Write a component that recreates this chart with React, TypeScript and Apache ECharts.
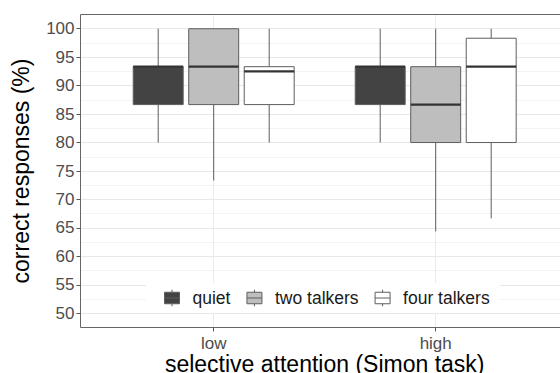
import React, { useEffect, useRef } from "react";
import * as echarts from "echarts";

// ---- data ----
const groups = ["low", "high"];
const seriesNames = ["quiet", "two talkers", "four talkers"];
const seriesFills = ["#434343", "#bebebe", "#ffffff"];

const quietMin = [80, 80];
const quietQ1 = [86.67, 86.67];
const quietMedian = [93.33, 93.33];
const quietQ3 = [93.33, 93.33];
const quietMax = [100, 100];

const twoMin = [73.33, 64.4];
const twoQ1 = [86.67, 80];
const twoMedian = [93.33, 86.67];
const twoQ3 = [100, 93.33];
const twoMax = [100, 100];

const fourMin = [80, 66.67];
const fourQ1 = [86.67, 80];
const fourMedian = [92.5, 93.33];
const fourQ3 = [93.33, 98.33];
const fourMax = [100, 100];

const yTickMin = 50;
const yTickMax = 100;
const yTickStep = 5;

// ---- layout ----
const W = 570;
const H = 373;
const PL = 80.5;
const PT = 14.5;
const PB = 327.5;
const UNIT_X = 222;
const PW = 2.2 * UNIT_X;
const Y_LO = 47.5;
const Y_HI = 102.5;
const PH = PB - PT;
const pxPerY = PH / (Y_HI - Y_LO);
const FONT = "'Liberation Sans', Arial, Helvetica, sans-serif";

const KEY_PATH =
  "path://M0,2.5L15,2.5L15,14L0,14Z M7.5,0L7.5,2.5 M7.5,14L7.5,16.5 M0,8.25L15,8.25";

function buildData(mn: number[], q1: number[], md: number[], q3: number[], mx: number[]) {
  return groups.map((g, i) => [g, mn[i], q1[i], md[i], q3[i], mx[i]]);
}

const seriesData = [
  buildData(quietMin, quietQ1, quietMedian, quietQ3, quietMax),
  buildData(twoMin, twoQ1, twoMedian, twoQ3, twoMax),
  buildData(fourMin, fourQ1, fourMedian, fourQ3, fourMax),
];

const DODGE = 0.25;
const BOX_FRAC = 0.225;
const OUTLINE = "#5e5e5e";

const gridBase = { containLabel: false, outerBoundsMode: "none" };

export default function App() {
  const ref = useRef<HTMLDivElement>(null);
  useEffect(() => {
    if (!ref.current) return;
    const chart = echarts.init(ref.current, undefined, { renderer: "svg" });
    const series = seriesNames.map((name, si) => ({
      name,
      type: "custom",
      xAxisIndex: 2,
      yAxisIndex: 2,
      z: 3,
      itemStyle: { color: seriesFills[si], borderColor: OUTLINE },
      encode: { x: 0, y: [1, 2, 3, 4, 5] },
      data: seriesData[si],
      renderItem: (params: any, api: any) => {
        const xi = api.value(0);
        const band = api.size([1, 0])[0];
        const cx = api.coord([xi, 0])[0] + (si - 1) * DODGE * band;
        const hw = (BOX_FRAC * band) / 2;
        const yMin = api.coord([xi, api.value(1)])[1];
        const yQ1 = api.coord([xi, api.value(2)])[1];
        const yMed = api.coord([xi, api.value(3)])[1];
        const yQ3 = api.coord([xi, api.value(4)])[1];
        const yMax = api.coord([xi, api.value(5)])[1];
        const ls = { stroke: OUTLINE, lineWidth: 1 };
        return {
          type: "group",
          children: [
            { type: "line", shape: { x1: cx, y1: yMax, x2: cx, y2: yQ3 }, style: ls },
            { type: "line", shape: { x1: cx, y1: yQ1, x2: cx, y2: yMin }, style: ls },
            {
              type: "rect",
              shape: { x: cx - hw, y: yQ3, width: 2 * hw, height: yQ1 - yQ3 },
              style: { fill: seriesFills[si], stroke: OUTLINE, lineWidth: 1 },
            },
            {
              type: "line",
              shape: { x1: cx - hw, y1: yMed, x2: cx + hw, y2: yMed },
              style: { stroke: "#333333", lineWidth: 2.2 },
            },
          ],
        };
      },
    }));

    const option: any = {
      animation: false,
      backgroundColor: "#ffffff",
      textStyle: { fontFamily: FONT },
      grid: [
        { ...gridBase, left: PL, top: PT, width: PW, height: PH },
        {
          ...gridBase,
          left: PL,
          top: PT + (Y_HI - yTickMax) * pxPerY,
          width: PW,
          height: (yTickMax - yTickMin) * pxPerY,
        },
        { ...gridBase, left: PL + 0.1 * UNIT_X, top: PT, width: 2 * UNIT_X, height: PH },
        { ...gridBase, left: PL + 0.6 * UNIT_X, top: PT, width: UNIT_X, height: PH },
      ],
      xAxis: [
        { gridIndex: 0, type: "value", min: 0, max: 1, show: false },
        { gridIndex: 1, type: "value", min: 0, max: 1, show: false },
        { gridIndex: 2, type: "category", data: groups, boundaryGap: true, show: false },
        {
          gridIndex: 3,
          type: "category",
          data: groups,
          boundaryGap: false,
          axisLine: { show: false, onZero: false },
          axisTick: { show: true, length: 4, interval: 0, lineStyle: { color: "#555555" } },
          axisLabel: {
            interval: 0,
            margin: 7,
            fontSize: 17,
            color: "#4d4d4d",
            fontFamily: FONT,
          },
          splitLine: { show: true, interval: 0, lineStyle: { color: "#ebebeb", width: 1 } },
          name: "selective attention (Simon task)",
          nameLocation: "middle",
          nameGap: 25,
          nameMoveOverlap: false,
          nameTextStyle: { fontSize: 23, color: "#000000", fontFamily: FONT },
        },
      ],
      yAxis: [
        {
          gridIndex: 0,
          type: "value",
          min: Y_LO,
          max: Y_HI,
          interval: 2.5,
          axisLine: { show: false },
          axisTick: { show: false },
          axisLabel: { show: false },
          splitLine: { show: true, lineStyle: { color: ["#f3f3f3", "#e8e8e8"], width: 1 } },
        },
        {
          gridIndex: 1,
          type: "value",
          min: yTickMin,
          max: yTickMax,
          interval: yTickStep,
          axisLine: { show: false },
          axisTick: { show: true, length: 4, lineStyle: { color: "#555555" } },
          axisLabel: { margin: 6, fontSize: 17, color: "#4d4d4d", fontFamily: FONT },
          splitLine: { show: false },
          name: "correct responses (%)",
          nameLocation: "middle",
          nameGap: 48,
          nameMoveOverlap: false,
          nameTextStyle: { fontSize: 23, color: "#000000", fontFamily: FONT },
        },
        { gridIndex: 2, type: "value", min: Y_LO, max: Y_HI, show: false },
        { gridIndex: 3, type: "value", min: 0, max: 1, show: false },
      ],
      legend: {
        show: true,
        left: 146,
        top: 283,
        orient: "horizontal",
        backgroundColor: "#ffffff",
        padding: [6, 10, 6, 18],
        itemWidth: 31,
        itemHeight: 16.5,
        itemGap: 16,
        selectedMode: false,
        textStyle: { fontSize: 17.5, color: "#1a1a1a", fontFamily: FONT },
        data: seriesNames.map((n, i) => ({
          name: n,
          icon: KEY_PATH,
          itemStyle: { color: seriesFills[i], borderColor: OUTLINE, borderWidth: 1 },
        })),
      },
      graphic: [
        {
          type: "rect",
          z: 100,
          silent: true,
          shape: { x: PL, y: PT, width: PW, height: PH },
          style: { fill: "none", stroke: "#666666", lineWidth: 1 },
        },
      ],
      series,
    };
    chart.setOption(option);
    return () => chart.dispose();
  }, []);
  return (
    <div
      style={{
        position: "absolute",
        left: 0,
        top: 0,
        width: 560,
        height: 373,
        overflow: "hidden",
        background: "#fff",
      }}
    >
      <div ref={ref} style={{ width: W, height: H }} />
    </div>
  );
}
